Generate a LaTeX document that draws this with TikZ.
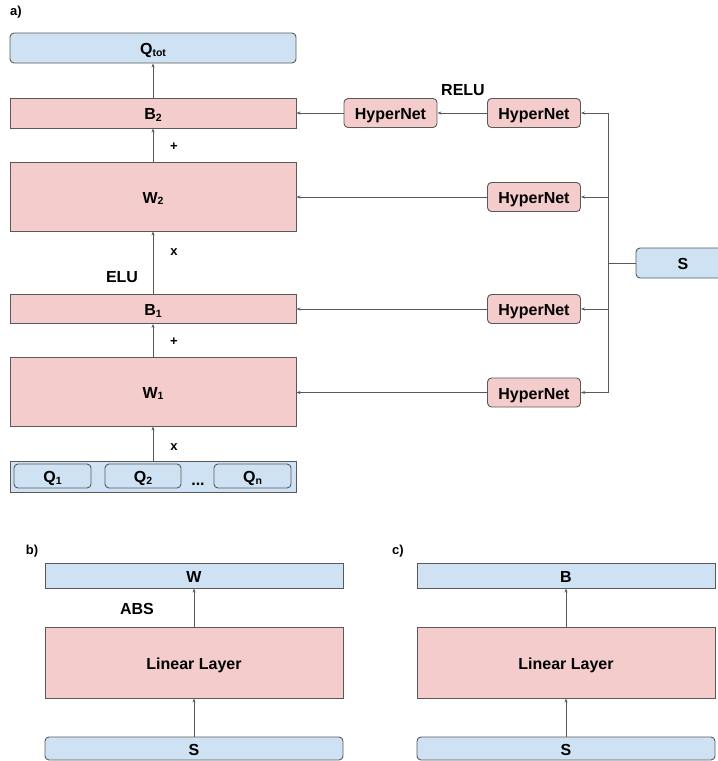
\documentclass[tikz,border=0pt]{standalone}
\usepackage{fontspec}
\setmainfont{Liberation Sans}
\usepackage{tikz}
\usetikzlibrary{arrows.meta}
\usetikzlibrary{positioning}
\definecolor{boxblue}{HTML}{CFE2F3}
\definecolor{boxpink}{HTML}{F4CCCC}
\definecolor{edge}{HTML}{595959}
\newcommand{\lowsub}[1]{\raisebox{-1.5pt}{\fontsize{10.5}{12}\selectfont #1}}

\begin{document}
\begin{tikzpicture}[x=1pt,y=-1pt,
    every node/.style={font=\bfseries\fontsize{16}{19}\selectfont, inner sep=0pt,
        text height=13.4pt, text depth=0pt},
    bluebox/.style={draw=edge, fill=boxblue, line width=0.9pt, rounded corners=4pt},
    flatblue/.style={draw=edge, fill=boxblue, line width=0.9pt},
    pinkbox/.style={draw=edge, fill=boxpink, line width=0.9pt},
    hnbox/.style={draw=edge, fill=boxpink, line width=0.9pt, rounded corners=4pt,
        minimum width=93pt, minimum height=29pt},
    small/.style={font=\bfseries\fontsize{13}{15}\selectfont, text height=9pt},
    arr/.style={draw=edge, line width=0.8pt, -{Stealth[length=4pt,width=3pt]}},
    ln/.style={draw=edge, line width=0.8pt}]
\clip (0,0) rectangle (718,761);

%% a) mixing network
\node[small] (lbla) at (16,11) {a)};
\node[bluebox, minimum width=286pt, minimum height=30pt] (qtot) at (153,48) {Q\lowsub{tot}};
\node[pinkbox, minimum width=286pt, minimum height=30pt] (b2) at (153,113) {B\lowsub{2}};
\node[pinkbox, minimum width=286pt, minimum height=69pt] (w2) at (153,196.5) {W\lowsub{2}};
\node[pinkbox, minimum width=286pt, minimum height=29pt] (b1) at (153,309) {B\lowsub{1}};
\node[pinkbox, minimum width=286pt, minimum height=69pt] (w1) at (153,391.5) {W\lowsub{1}};

%% agent q values
\node[flatblue, minimum width=286pt, minimum height=31pt] (qall) at (153,476.5) {};
\node[bluebox, minimum width=77pt, minimum height=24pt] (q1) at (52.5,476) {Q\lowsub{1}};
\node[bluebox, minimum width=76pt, minimum height=24pt] (q2) at (143,476) {Q\lowsub{2}};
\node[bluebox, minimum width=77pt, minimum height=24pt] (qn) at (252.5,476) {Q\lowsub{n}};
\node (dots) at (198,479) {...};

\draw[arr] (b2.north) -- (qtot.south);
\draw[arr] (w2.north) -- (b2.south);
\draw[arr] (b1.north) -- (w2.south);
\draw[arr] (w1.north) -- (b1.south);
\draw[arr] (qall.north) -- (w1.south);

\node[small] (plus2) at (174,146) {+};
\node[small] (times2) at (174,251) {x};
\node (elu) at (122,276) {ELU};
\node[small] (plus1) at (174,341) {+};
\node[small] (times1) at (174,446) {x};

%% hypernetworks
\node[hnbox] (hnr) at (390.5,113) {HyperNet};
\node[hnbox] (hnb2) at (534,113) {HyperNet};
\node[hnbox] (hnw2) at (534,197) {HyperNet};
\node[hnbox] (hnb1) at (534,309) {HyperNet};
\node[hnbox] (hnw1) at (534,392.5) {HyperNet};
\node (relu) at (463,89) {RELU};

\node[bluebox, minimum width=94pt, minimum height=30pt] (s) at (683,263) {S};
\coordinate (jn) at (608,263);

\draw[ln] (s.west) -- (jn);
\draw[ln] (jn) -- (jn |- hnw1);
\draw[arr] (jn) |- (hnb2.east);
\draw[arr] (jn) |- (hnw2.east);
\draw[arr] (jn) |- (hnb1.east);
\draw[arr] (jn) |- (hnw1.east);
\draw[arr] (hnb2.west) -- (hnr.east);
\draw[arr] (hnr.west) -- (b2.east);
\draw[arr] (hnw2.west) -- (hnw2.west -| w2.east);
\draw[arr] (hnb1.west) -- (hnb1.west -| b1.east);
\draw[arr] (hnw1.west) -- (hnw1.west -| w1.east);

%% b) weight hypernet
\node[small] (lblb) at (32,550) {b)};
\node[flatblue, minimum width=298pt, minimum height=25pt] (wout) at (194,575.5) {W};
\node[pinkbox, minimum width=298pt, minimum height=71pt] (linb) at (194,662.5) {Linear Layer};
\node[bluebox, minimum width=298pt, minimum height=23pt] (sb) at (194,748.5) {S};
\node (abs) at (137,608) {ABS};
\draw[arr] (sb.north) -- (linb.south);
\draw[arr] (linb.north) -- (wout.south);

%% c) bias hypernet
\node[small] (lblc) at (398,550) {c)};
\node[flatblue, minimum width=298pt, minimum height=25pt] (bout) at (566,575.5) {B};
\node[pinkbox, minimum width=298pt, minimum height=71pt] (linc) at (566,662.5) {Linear Layer};
\node[bluebox, minimum width=298pt, minimum height=23pt] (sc) at (566,748.5) {S};
\draw[arr] (sc.north) -- (linc.south);
\draw[arr] (linc.north) -- (bout.south);
\end{tikzpicture}
\end{document}
